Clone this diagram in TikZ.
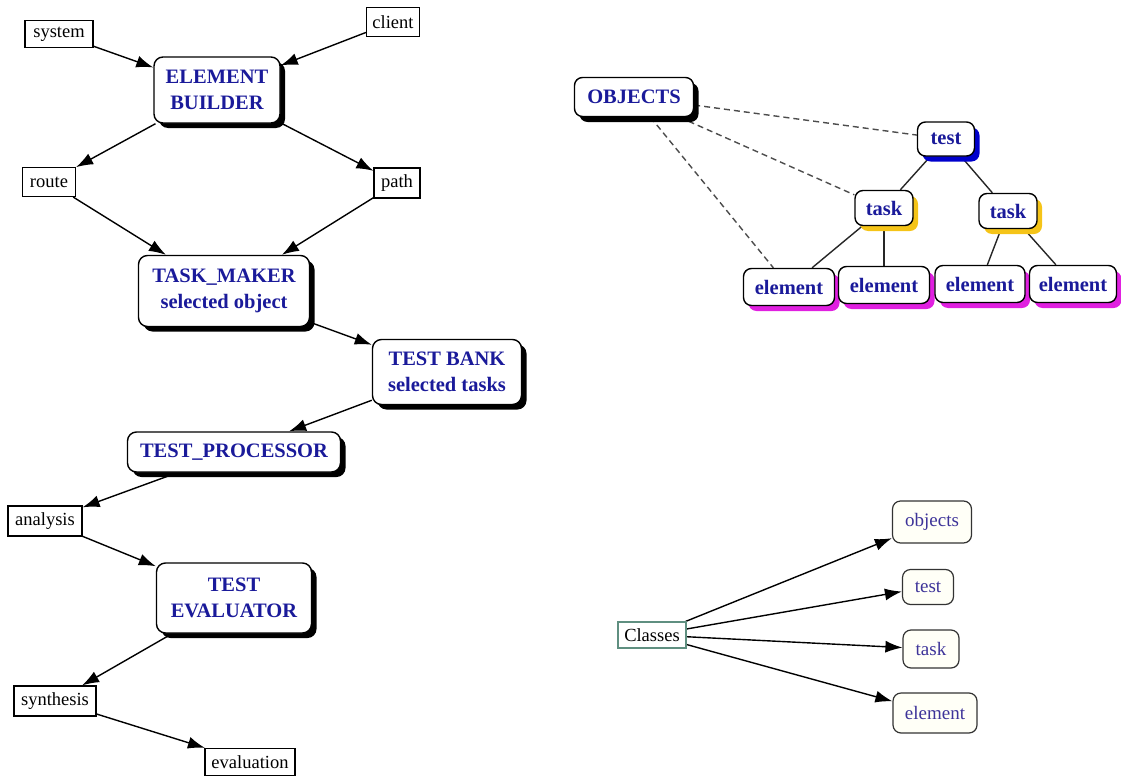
\documentclass[tikz,border=0pt]{standalone}
\usepackage{fontspec}
\setmainfont{Liberation Serif}
\usetikzlibrary{arrows.meta,shadows,backgrounds}
\definecolor{navy}{HTML}{1A1A9A}
\definecolor{violetblue}{HTML}{3D3399}
\definecolor{tealgray}{HTML}{5F8F80}
\definecolor{gold}{HTML}{F5C418}
\definecolor{magentashade}{HTML}{E020E0}
\definecolor{blueshade}{HTML}{0000CC}
\tikzset{
  plain/.style={draw, line width=1.2pt, fill=white, inner sep=0pt,
    font={\fontsize{18.5}{20}\selectfont}, text=black},
  major/.style={draw, line width=1.4pt, rounded corners=9pt, fill=white,
    align=center, inner sep=0pt, text=navy,
    font={\fontsize{20.5}{26}\selectfont\bfseries},
    general shadow={fill=black, shadow xshift=5pt, shadow yshift=-5pt}},
  treebox/.style={draw, line width=1.4pt, rounded corners=8pt, fill=white,
    inner sep=0pt, text=navy, font={\fontsize{20.5}{24}\selectfont\bfseries},
    general shadow={fill=#1, shadow xshift=5pt, shadow yshift=-5.5pt}},
  classbox/.style={draw=black!80, line width=1.2pt, rounded corners=8pt,
    fill=white!97!yellow, inner sep=0pt, text=violetblue,
    font={\fontsize{19}{21}\selectfont}},
  flow/.style={line width=1.4pt, -{Latex[length=17pt,width=12pt]}},
  tie/.style={line width=1.4pt, black!85},
  dotted link/.style={line width=1.4pt, black!70, dash pattern=on 6pt off 4pt},
}
\begin{document}
\begin{tikzpicture}[x=1pt,y=-1pt]
\useasboundingbox (0,0) rectangle (1121,776);

% process chain on the left
\node[plain, minimum width=68, minimum height=27] (system) at (59,34) {system};
\node[plain, minimum width=53, minimum height=29] (client) at (393,22) {client};
\node[major, minimum width=126, minimum height=66] (builder) at (217,90) {ELEMENT\\BUILDER};
\node[plain, minimum width=53, minimum height=29] (route) at (49,182) {route};
\node[plain, minimum width=46, minimum height=30] (path) at (397,183) {path};
\node[major, minimum width=171, minimum height=71] (maker) at (224,291) {TASK\_MAKER\\selected object};
\node[major, minimum width=149, minimum height=65] (bank) at (447,372) {TEST BANK\\selected tasks};
\node[major, minimum width=213, minimum height=40] (processor) at (234,452) {TEST\_PROCESSOR};
\node[plain, minimum width=74, minimum height=30] (analysis) at (45,521) {analysis};
\node[major, minimum width=155, minimum height=70] (evaluator) at (234,598) {TEST\\EVALUATOR};
\node[plain, minimum width=82, minimum height=30] (synthesis) at (55,701) {synthesis};
\node[plain, minimum width=90, minimum height=27] (evaluation) at (250,762) {evaluation};

% object hierarchy, top right
\node[treebox=black, minimum width=119, minimum height=39] (objects) at (634,97) {OBJECTS};
\node[treebox=blueshade, minimum width=57, minimum height=34] (test) at (946,139) {test};
\node[treebox=gold, minimum width=58, minimum height=35] (taskA) at (884,208) {task};
\node[treebox=gold, minimum width=58, minimum height=35] (taskB) at (1008,211) {task};
\node[treebox=magentashade, minimum width=91, minimum height=37] (elemA) at (789,287) {element};
\node[treebox=magentashade, minimum width=91, minimum height=37] (elemB) at (884,285) {element};
\node[treebox=magentashade, minimum width=90, minimum height=37] (elemC) at (980,284) {element};
\node[treebox=magentashade, minimum width=87, minimum height=37] (elemD) at (1073,284) {element};

% class overview, bottom right
\node[draw=tealgray, line width=1.2pt, fill=white, inner sep=0pt,
      minimum width=68, minimum height=26, font={\fontsize{18.5}{20}\selectfont}] (classes) at (652,635) {Classes};
\node[classbox, minimum width=79, minimum height=42] (cobjects) at (932,522) {objects};
\node[classbox, minimum width=51, minimum height=35] (ctest) at (928,587) {test};
\node[classbox, minimum width=56, minimum height=38] (ctask) at (931,649) {task};
\node[classbox, minimum width=84, minimum height=40] (celement) at (935,713) {element};

\begin{scope}[on background layer]
  \draw[flow] (system) -- (builder);
  \draw[flow] (client) -- (builder);
  \draw[flow] (builder) -- (route);
  \draw[flow] (builder) -- (path);
  \draw[flow] (route) -- (maker);
  \draw[flow] (path) -- (maker);
  \draw[flow] (maker) -- (bank);
  \draw[flow] (bank) -- (processor);
  \draw[flow] (processor) -- (analysis);
  \draw[flow] (analysis) -- (evaluator);
  \draw[flow] (evaluator) -- (synthesis);
  \draw[flow] (synthesis) -- (evaluation);

  \draw[dotted link] (objects) -- (test);
  \draw[dotted link] (objects) -- (taskA);
  \draw[dotted link] (objects) -- (elemA);
  \draw[tie] (test) -- (taskA);
  \draw[tie] (test) -- (taskB);
  \draw[tie] (taskA) -- (elemA);
  \draw[tie] (taskA) -- (elemB);
  \draw[tie] (taskB) -- (elemC);
  \draw[tie] (taskB) -- (elemD);

  \draw[flow] (classes) -- (cobjects);
  \draw[flow] (classes) -- (ctest);
  \draw[flow] (classes) -- (ctask);
  \draw[flow] (classes) -- (celement);
\end{scope}
\end{tikzpicture}
\end{document}
